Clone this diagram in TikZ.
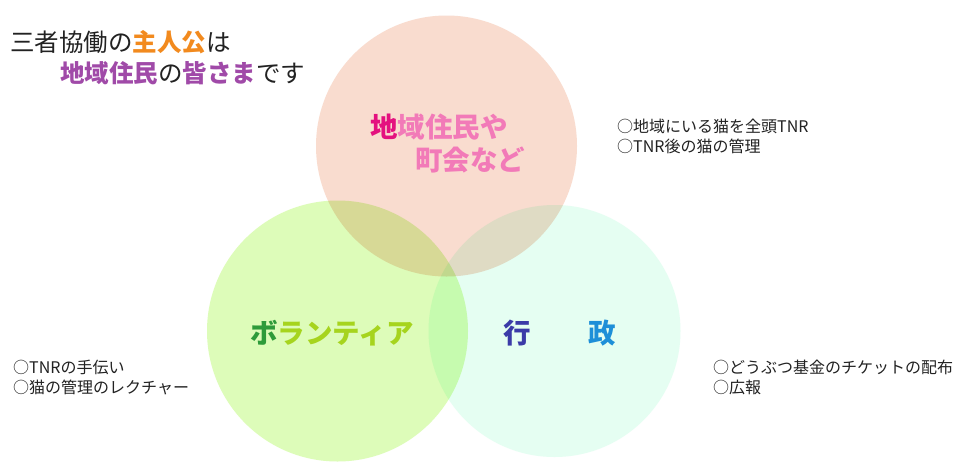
\documentclass[tikz,border=0pt]{standalone}
\usepackage{fontspec}
\newfontfamily\jp{Noto Sans CJK JP}
\definecolor{cpink}{HTML}{F9DCCF}
\definecolor{cgreen}{HTML}{DDFCB9}
\definecolor{cmint}{HTML}{E5FEF2}
\definecolor{torange}{HTML}{F28A1E}
\definecolor{tpurple}{HTML}{A04AA8}
\definecolor{tmagenta}{HTML}{E4117F}
\definecolor{tpink}{HTML}{F27AB8}
\definecolor{tdgreen}{HTML}{2E9B3A}
\definecolor{tygreen}{HTML}{A6D41E}
\definecolor{tnavy}{HTML}{3B3BA8}
\definecolor{tblue}{HTML}{1E8FD8}
\definecolor{ttext}{HTML}{222222}
\begin{document}
\begin{tikzpicture}[x=1pt,y=-1pt,
  ring/.style={circle, draw=none, inner sep=0pt},
  title/.style={anchor=west, inner sep=0pt, text=ttext, font=\jp\fontsize{24.5}{28}\selectfont},
  big/.style={anchor=west, inner sep=0pt, font=\jp\bfseries\fontsize{27.5}{30}\selectfont},
  note/.style={anchor=west, inner sep=0pt, text=ttext, font=\jp\fontsize{16}{18}\selectfont}]
\useasboundingbox[fill=white] (0,0) rectangle (953,464);
\begin{scope}[blend group=multiply]
  \node[ring, fill=cpink, minimum size=261pt] (top) at (446.5,146) {};
  \node[ring, fill=cgreen, minimum size=261pt] (vol) at (337.5,331) {};
  \node[ring, fill=cmint, minimum size=252pt] (gov) at (554.5,331) {};
\end{scope}
% title
\node[title] (t1) at (10,42) {三者協働の{\bfseries\color{torange}主人公}は};
\node[title] (t2) at (60,73) {{\bfseries\color{tpurple}地域住民}の{\bfseries\color{tpurple}皆さま}です};
% circle labels
\node[big] (l1) at (370,127) {{\color{tmagenta}地}{\color{tpink}域住民や}};
\node[big, text=tpink] (l2) at (415,160) {町会など};
\node[big] (l3) at (250,333) {{\color{tdgreen}ボ}{\color{tygreen}ランティア}};
\node[big, text=tnavy] (l4) at (503,333) {行};
\node[big, text=tblue] (l5) at (588,333) {政};
% notes
\node[note] (n1) at (617,126) {○地域にいる猫を全頭TNR};
\node[note] (n2) at (617,146) {○TNR後の猫の管理};
\node[note] (n3) at (13,367) {○TNRの手伝い};
\node[note] (n4) at (13,387) {○猫の管理のレクチャー};
\node[note] (n5) at (713,367) {○どうぶつ基金のチケットの配布};
\node[note] (n6) at (713,387) {○広報};
\end{tikzpicture}
\end{document}
